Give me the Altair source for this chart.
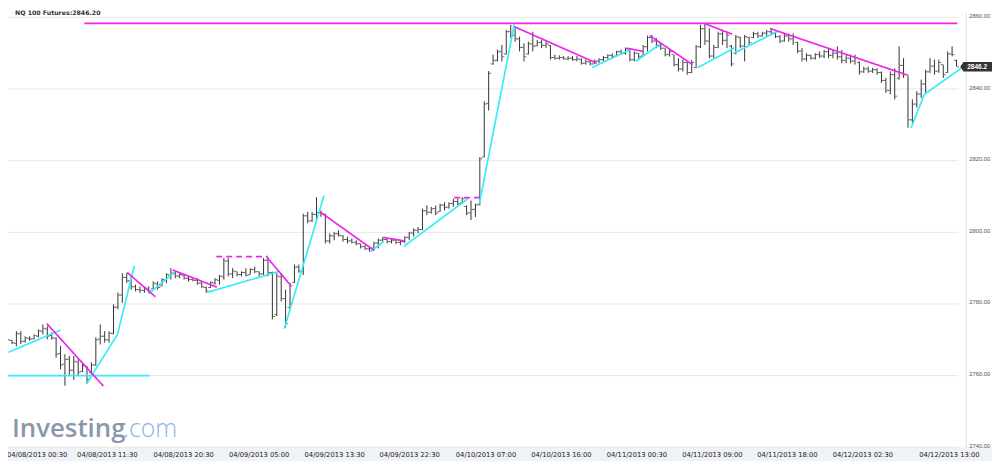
import altair as alt
import pandas as pd

HIGH = [
2770.7, 2770.0, 2772.4, 2772.4, 2771.0, 2771.0, 2771.5, 2772.9, 2774.3, 2773.8,
2772.0, 2770.7, 2768.3, 2766.0, 2765.5, 2765.5, 2764.6, 2763.7, 2762.7, 2763.7,
2770.7, 2774.3, 2772.4, 2772.4, 2779.9, 2783.2, 2788.6, 2788.6, 2787.7, 2785.4,
2784.9, 2784.9, 2784.9, 2786.3, 2786.3, 2787.2, 2788.6, 2790.0, 2789.1, 2788.6,
2788.1, 2787.7, 2787.2, 2787.2, 2786.3, 2784.9, 2786.3, 2787.2, 2788.1, 2792.8,
2792.8, 2790.0, 2789.1, 2789.1, 2790.0, 2790.0, 2790.4, 2789.1, 2792.8, 2792.8,
2789.0, 2788.6, 2788.6, 2784.0, 2785.9, 2791.0, 2791.0, 2805.2, 2805.7, 2805.7,
2809.8, 2806.1, 2805.2, 2799.7, 2800.1, 2800.6, 2799.2, 2798.8, 2798.3, 2797.8,
2796.9, 2796.4, 2796.0, 2797.4, 2798.3, 2798.6, 2798.3, 2798.3, 2798.1, 2797.8,
2798.9, 2800.1, 2801.1, 2801.5, 2806.6, 2807.5, 2807.1, 2807.5, 2808.0, 2808.4,
2808.4, 2809.4, 2809.4, 2809.8, 2807.5, 2808.9, 2808.0, 2821.0, 2836.6, 2845.0,
2849.6, 2851.0, 2852.3, 2856.5, 2857.9, 2856.9, 2854.6, 2852.8, 2853.2, 2856.0,
2853.7, 2853.7, 2853.2, 2852.3, 2849.6, 2849.4, 2849.2, 2849.2, 2849.2, 2849.2,
2848.6, 2848.2, 2848.0, 2848.2, 2848.6, 2849.2, 2849.7, 2850.0, 2850.7, 2851.0,
2851.6, 2851.4, 2850.5, 2850.0, 2852.3, 2854.9, 2855.1, 2854.2, 2852.8, 2851.4,
2851.0, 2849.6, 2848.6, 2848.2, 2847.7, 2848.1, 2852.3, 2857.9, 2858.3, 2856.9,
2852.3, 2856.0, 2856.5, 2856.0, 2852.3, 2855.1, 2854.6, 2855.1, 2854.6, 2856.0,
2856.0, 2856.0, 2856.5, 2856.9, 2856.0, 2855.1, 2855.5, 2855.5, 2855.5, 2853.2,
2851.4, 2850.0, 2849.6, 2850.0, 2850.5, 2850.9, 2851.4, 2850.9, 2851.9, 2850.9,
2849.6, 2849.6, 2849.6, 2847.7, 2846.3, 2846.3, 2845.9, 2845.8, 2844.9, 2843.1,
2844.9, 2845.8, 2851.9, 2848.6, 2844.0, 2837.1, 2839.4, 2842.6, 2845.4, 2848.6,
2848.2, 2848.2, 2846.8, 2850.5, 2851.9, 2848.2,
]

LOW = [
2767.4, 2768.8, 2768.2, 2768.8, 2769.2, 2769.7, 2770.1, 2770.7, 2771.5, 2770.1,
2770.0, 2765.0, 2761.8, 2757.2, 2760.0, 2758.8, 2760.0, 2761.0, 2757.7, 2760.4,
2762.7, 2768.7, 2769.2, 2769.2, 2771.5, 2778.5, 2780.3, 2785.9, 2784.0, 2783.5,
2783.1, 2783.1, 2783.0, 2784.0, 2784.0, 2784.9, 2785.8, 2786.8, 2787.2, 2787.2,
2786.8, 2786.3, 2786.3, 2785.4, 2784.5, 2783.1, 2784.5, 2785.4, 2785.4, 2786.8,
2787.7, 2787.2, 2787.7, 2787.7, 2787.7, 2788.2, 2788.6, 2787.7, 2788.1, 2787.7,
2775.7, 2776.6, 2780.7, 2773.4, 2778.5, 2785.9, 2788.7, 2788.1, 2802.5, 2802.9,
2803.4, 2804.3, 2796.9, 2796.9, 2797.8, 2798.8, 2797.4, 2796.9, 2796.9, 2796.4,
2795.5, 2795.1, 2794.6, 2795.1, 2795.5, 2797.4, 2796.9, 2796.9, 2796.7, 2796.4,
2797.0, 2797.8, 2798.8, 2799.7, 2800.6, 2804.8, 2805.2, 2804.8, 2805.7, 2806.1,
2806.6, 2807.1, 2807.5, 2808.0, 2804.8, 2803.4, 2804.3, 2807.5, 2820.9, 2834.0,
2846.8, 2847.7, 2847.7, 2849.6, 2854.2, 2853.2, 2850.5, 2847.7, 2849.6, 2850.5,
2851.9, 2851.4, 2851.4, 2848.2, 2848.2, 2848.2, 2848.2, 2848.0, 2847.9, 2847.7,
2846.8, 2846.8, 2846.6, 2847.0, 2847.2, 2847.7, 2848.2, 2848.6, 2849.1, 2849.6,
2849.6, 2847.7, 2847.7, 2848.2, 2849.1, 2850.5, 2852.8, 2851.4, 2850.9, 2849.1,
2849.1, 2846.3, 2844.9, 2844.9, 2844.0, 2844.4, 2845.8, 2851.4, 2852.3, 2848.6,
2848.6, 2851.4, 2852.3, 2851.4, 2846.3, 2849.6, 2851.4, 2847.7, 2852.3, 2854.2,
2854.2, 2854.6, 2854.6, 2855.1, 2854.2, 2852.8, 2853.2, 2853.2, 2852.3, 2850.0,
2847.7, 2847.7, 2848.2, 2848.2, 2848.6, 2848.6, 2848.6, 2848.6, 2848.2, 2847.2,
2847.2, 2847.2, 2846.8, 2844.0, 2844.5, 2844.5, 2844.5, 2844.0, 2841.7, 2838.9,
2838.5, 2837.1, 2842.6, 2843.1, 2829.2, 2830.2, 2834.8, 2837.5, 2838.9, 2844.5,
2844.0, 2844.5, 2843.1, 2844.5, 2849.1, 2846.3,
]

OPEN = [
2768.0, 2769.8, 2769.0, 2771.6, 2769.6, 2770.4, 2770.3, 2771.0, 2772.4, 2773.0,
2771.2, 2770.4, 2766.2, 2763.2, 2764.6, 2761.5, 2763.8, 2761.2, 2762.5, 2760.8,
2763.0, 2770.2, 2771.0, 2770.0, 2771.8, 2779.2, 2782.5, 2787.4, 2786.4, 2784.8,
2784.0, 2783.8, 2784.4, 2784.2, 2785.6, 2785.0, 2786.6, 2788.0, 2788.6, 2787.8,
2788.0, 2787.2, 2786.8, 2786.6, 2785.8, 2784.6, 2784.6, 2785.8, 2786.6, 2787.6,
2792.0, 2788.4, 2789.0, 2788.2, 2788.8, 2788.2, 2789.6, 2789.0, 2788.4, 2792.2,
2788.8, 2777.0, 2787.6, 2781.5, 2779.0, 2786.0, 2790.4, 2789.0, 2804.6, 2803.2,
2805.0, 2805.5, 2805.0, 2797.6, 2799.0, 2799.6, 2799.0, 2798.0, 2797.6, 2797.2,
2796.8, 2796.0, 2795.4, 2795.6, 2797.0, 2797.8, 2798.0, 2797.4, 2797.8, 2797.2,
2797.4, 2798.6, 2799.8, 2800.6, 2800.8, 2806.0, 2805.6, 2806.6, 2805.8, 2807.6,
2807.0, 2808.0, 2808.6, 2808.2, 2807.2, 2805.4, 2806.4, 2807.8, 2821.0, 2836.0,
2847.0, 2848.0, 2850.4, 2849.8, 2856.0, 2855.0, 2854.0, 2851.6, 2849.8, 2852.6,
2852.0, 2853.0, 2852.2, 2852.2, 2848.8, 2848.6, 2848.8, 2848.4, 2848.6, 2848.2,
2848.2, 2847.2, 2847.6, 2847.0, 2847.8, 2848.2, 2848.8, 2849.4, 2849.2, 2850.4,
2850.0, 2851.2, 2848.2, 2850.0, 2849.2, 2851.8, 2854.4, 2853.4, 2852.0, 2851.4,
2849.6, 2849.6, 2846.8, 2845.6, 2847.4, 2844.6, 2846.0, 2851.8, 2856.8, 2853.4,
2849.2, 2851.6, 2855.4, 2853.6, 2852.0, 2850.0, 2854.4, 2852.0, 2854.4, 2854.4,
2855.4, 2854.8, 2855.6, 2856.0, 2855.6, 2854.6, 2853.4, 2854.8, 2854.0, 2853.0,
2850.6, 2848.4, 2849.4, 2848.6, 2849.6, 2849.2, 2850.4, 2849.4, 2850.0, 2849.0,
2848.0, 2848.6, 2847.8, 2847.4, 2844.8, 2845.6, 2845.0, 2845.4, 2844.6, 2842.4,
2839.6, 2844.0, 2843.0, 2846.6, 2844.0, 2831.4, 2835.8, 2838.6, 2841.4, 2844.8,
2846.4, 2845.0, 2846.8, 2844.6, 2849.8, 2848.0,
]

CLOSE = [
2770.0, 2769.2, 2771.8, 2769.5, 2770.5, 2770.2, 2771.2, 2772.5, 2773.2, 2771.0,
2770.6, 2766.0, 2763.0, 2764.5, 2761.5, 2764.0, 2761.0, 2762.8, 2759.0, 2763.0,
2770.0, 2771.0, 2770.0, 2771.8, 2779.0, 2782.5, 2787.5, 2786.5, 2784.8, 2784.0,
2783.8, 2784.4, 2783.6, 2785.8, 2784.6, 2786.8, 2788.2, 2788.6, 2787.8, 2788.2,
2787.2, 2786.8, 2786.6, 2785.8, 2784.8, 2783.6, 2786.0, 2786.8, 2787.8, 2792.0,
2788.4, 2789.2, 2788.2, 2788.8, 2788.0, 2789.6, 2789.0, 2788.4, 2792.2, 2788.8,
2776.5, 2787.8, 2781.5, 2774.5, 2785.0, 2790.2, 2789.2, 2804.6, 2803.2, 2805.0,
2805.5, 2805.2, 2797.6, 2799.0, 2799.6, 2799.2, 2798.0, 2797.6, 2797.2, 2796.8,
2796.0, 2795.4, 2795.6, 2797.0, 2797.8, 2798.0, 2797.4, 2797.8, 2797.2, 2797.4,
2798.6, 2799.8, 2800.6, 2800.8, 2806.0, 2805.6, 2806.6, 2805.4, 2807.6, 2807.0,
2808.0, 2808.6, 2808.0, 2809.4, 2805.4, 2806.4, 2807.6, 2820.5, 2835.8, 2844.4,
2848.0, 2850.4, 2849.0, 2856.0, 2855.0, 2854.0, 2851.6, 2849.0, 2852.6, 2852.0,
2853.0, 2852.2, 2852.6, 2848.8, 2848.6, 2848.8, 2848.4, 2848.6, 2848.2, 2848.4,
2847.2, 2847.6, 2847.0, 2847.8, 2848.2, 2848.8, 2849.4, 2849.0, 2850.4, 2850.0,
2851.2, 2848.2, 2850.0, 2849.0, 2851.8, 2854.4, 2853.4, 2852.0, 2851.4, 2849.6,
2850.4, 2846.8, 2845.6, 2847.4, 2844.6, 2847.4, 2851.8, 2856.8, 2853.4, 2849.2,
2851.6, 2855.4, 2853.6, 2855.0, 2847.0, 2854.6, 2852.0, 2854.6, 2853.0, 2855.4,
2854.8, 2855.6, 2856.0, 2855.6, 2854.6, 2853.4, 2854.8, 2854.0, 2854.6, 2850.6,
2848.4, 2849.4, 2848.6, 2849.6, 2849.2, 2850.4, 2849.4, 2850.0, 2849.0, 2848.0,
2848.6, 2847.8, 2848.8, 2844.8, 2845.6, 2845.0, 2845.4, 2844.6, 2842.4, 2839.6,
2844.0, 2838.0, 2846.6, 2844.0, 2831.4, 2835.8, 2838.6, 2841.4, 2844.8, 2846.4,
2845.0, 2847.4, 2844.0, 2849.8, 2849.6, 2846.2,
]

# trend lines drawn on the chart (bar index, price)
SEG_X1 = [0.2, -1.7, 17.9, 24.9, 32.0, 45.1, 62.7, 82.2, 89.7, 106.9, 132.4, 142.3, 156.4, 164.6, 204.7, 207.7,
          17.4, 8.9, 27.1, 37.4, 47.3, 58.8, 70.8, 85.0, 101.2, 114.8, 140.3, 145.5, 157.9, 172.7]
SEG_Y1 = [2766.5, 2760.0, 2757.7, 2771.5, 2782.9, 2783.2, 2773.1, 2794.6, 2796.0, 2808.0, 2846.0, 2847.7, 2846.0, 2850.0, 2829.1, 2838.5,
          2858.3, 2774.5, 2788.8, 2789.5, 2793.2, 2793.0, 2805.7, 2798.6, 2809.7, 2857.4, 2851.4, 2854.9, 2858.3, 2856.9]
SEG_X2 = [12.0, 32.2, 24.9, 28.7, 37.6, 61.6, 71.7, 85.2, 104.3, 114.8, 141.0, 147.8, 164.6, 174.3, 207.7, 216.4,
          215.2, 21.7, 33.5, 47.4, 59.0, 64.2, 83.1, 89.9, 106.9, 133.5, 144.0, 155.2, 164.2, 203.6]
SEG_Y2 = [2772.7, 2760.0, 2771.5, 2790.6, 2788.6, 2789.1, 2810.3, 2797.4, 2809.4, 2858.0, 2850.9, 2852.5, 2851.4, 2856.0, 2838.5, 2846.1,
          2858.3, 2757.1, 2782.0, 2784.7, 2793.2, 2785.1, 2794.9, 2797.6, 2809.7, 2847.2, 2850.5, 2846.8, 2855.3, 2844.0]
SEG_KIND = ["up"] * 16 + ["down"] * 14
SEG_DASH = ["solid"] * 20 + ["dash"] + ["solid"] * 3 + ["dash"] + ["solid"] * 5

XTICK_POS = [6.7, 22.6, 39.9, 57.0, 74.1, 91.1, 108.4, 125.5, 142.6, 159.7, 176.7, 193.8, 213.4]
XTICK_LABELS = ["04/08/2013 00:30", "04/08/2013 11:30", "04/08/2013 20:30", "04/09/2013 05:00",
                "04/09/2013 13:30", "04/09/2013 22:30", "04/10/2013 07:00", "04/10/2013 16:00",
                "04/11/2013 00:30", "04/11/2013 09:00", "04/11/2013 18:00", "04/12/2013 02:30",
                "04/12/2013 13:00"]
YTICKS = [2740, 2760, 2780, 2800, 2820, 2840, 2860]
LAST_PRICE = 2846.2
TITLE = "NQ 100 Futures:2846.20"

n = len(HIGH)
assert len(LOW) == n and len(OPEN) == n and len(CLOSE) == n, (len(HIGH), len(LOW), len(OPEN), len(CLOSE))

W, H = 958, 441
bars_df = pd.DataFrame({"i": list(range(n)), "high": HIGH, "low": LOW, "open": OPEN, "close": CLOSE})
seg_df = pd.DataFrame({"x1": SEG_X1, "y1": SEG_Y1, "x2": SEG_X2, "y2": SEG_Y2, "kind": SEG_KIND, "dash": SEG_DASH})
xt_df = pd.DataFrame({"pos": XTICK_POS, "label": XTICK_LABELS})
yt_df = pd.DataFrame({"v": YTICKS})
last_df = pd.DataFrame({"p": [LAST_PRICE], "t": ["2846.2"]})
one = pd.DataFrame({"a": [0]})

xs = alt.Scale(domain=[0.1, 215.4], nice=False, zero=False)
ys = alt.Scale(domain=[2740, 2862.1], nice=False, zero=False)

band = alt.Chart(one).mark_rect(color="#eff2f6").encode(
    x=alt.value(0), x2=alt.value(992), y=alt.value(H), y2=alt.value(H + 14))

wm1 = alt.Chart(one).mark_text(text="Investing", font="Open Sans", fontWeight=600, fontSize=26,
                               color="#8a99aa", align="left", baseline="alphabetic").encode(
    x=alt.value(4), y=alt.value(431))
wm2 = alt.Chart(one).mark_text(text=".com", font="Open Sans", fontWeight=300, fontSize=25,
                               color="#8db5de", align="left", baseline="alphabetic").encode(
    x=alt.value(116), y=alt.value(431))

grid = alt.Chart(yt_df).mark_rule(color="#e6e6e6", strokeWidth=1).encode(
    y=alt.Y("v:Q", scale=ys, axis=None), x=alt.value(0), x2=alt.value(W))
ylab = alt.Chart(yt_df).mark_text(align="left", baseline="middle", dy=-1.5, font="Liberation Sans",
                                  fontSize=5.9, color="#44555f").encode(
    y=alt.Y("v:Q", scale=ys, axis=None), x=alt.value(969), text=alt.Text("v:Q", format=".2f"))
ydom = alt.Chart(one).mark_rule(color="#dddddd").encode(
    x=alt.value(966), y=alt.value(3), y2=alt.value(H))

rng = alt.Chart(bars_df).mark_rule(color="#333333", strokeWidth=1).encode(
    x=alt.X("i:Q", scale=xs, axis=None), y=alt.Y("low:Q", scale=ys, axis=None), y2="high:Q")
otk = alt.Chart(bars_df).mark_tick(orient="horizontal", size=2, thickness=1, xOffset=-1.5,
                                   color="#333333").encode(
    x=alt.X("i:Q", scale=xs, axis=None), y=alt.Y("open:Q", scale=ys, axis=None))
ctk = alt.Chart(bars_df).mark_tick(orient="horizontal", size=2, thickness=1, xOffset=1.5,
                                   color="#333333").encode(
    x=alt.X("i:Q", scale=xs, axis=None), y=alt.Y("close:Q", scale=ys, axis=None))

segs = alt.Chart(seg_df).mark_rule(strokeWidth=1.7).encode(
    x=alt.X("x1:Q", scale=xs, axis=None), x2="x2:Q",
    y=alt.Y("y1:Q", scale=ys, axis=None), y2="y2:Q",
    color=alt.Color("kind:N", scale=alt.Scale(domain=["up", "down"], range=["#35eef5", "#f024ee"]), legend=None),
    strokeDash=alt.StrokeDash("dash:N", scale=alt.Scale(domain=["solid", "dash"], range=[[1, 0], [6, 4]]), legend=None),
)

xlab = alt.Chart(xt_df).mark_text(baseline="middle", align="center", font="DejaVu Sans", fontSize=6.8,
                                  color="#222222").encode(
    x=alt.X("pos:Q", scale=xs, axis=None), y=alt.value(H + 7.5), text="label:N")

box = alt.Chart(last_df).mark_point(
    shape="M -1,0 L -0.8,-0.3 L 1,-0.3 L 1,0.3 L -0.8,0.3 Z", size=1024, filled=True,
    color="#333333", opacity=1).encode(
    x=alt.value(976), y=alt.Y("p:Q", scale=ys, axis=None))
boxt = alt.Chart(last_df).mark_text(align="left", baseline="middle", font="Liberation Sans", fontWeight="bold",
                                    fontSize=6.6, color="white").encode(
    x=alt.value(967), y=alt.Y("p:Q", scale=ys, axis=None), text="t:N")

title = alt.Chart(one).mark_text(text=TITLE, font="DejaVu Sans", fontWeight="bold", fontSize=6.3,
                                 color="#333333", align="left", baseline="alphabetic").encode(
    x=alt.value(7), y=alt.value(5))

chart = alt.layer(band, wm1, wm2, grid, ylab, ydom, rng, otk, ctk, segs, xlab, box, boxt, title).properties(
    width=W, height=H,
    autosize=alt.AutoSizeParams(type="none"),
    padding={"left": 0, "top": 0, "right": 34, "bottom": 14},
).configure_view(stroke=None)

chart.save("out.html", embed_options={"renderer": "svg", "actions": False})
